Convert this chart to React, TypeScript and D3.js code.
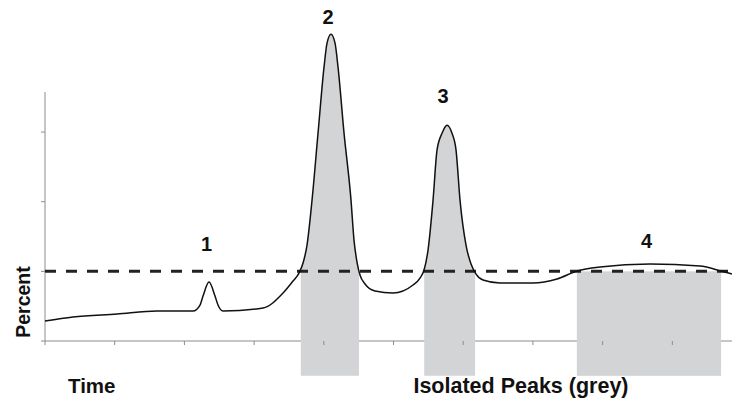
import React from "react";
import * as d3 from "d3";

const time = [0, 4.02, 10.33, 16.07, 21.23, 22.24, 22.67, 23.53, 24.39, 24.82, 25.54, 31.28, 34.15, 35.58, 36.44, 37.02, 37.59, 38.31, 39.17, 40.03, 40.46, 41.03, 41.61, 42.04, 42.9, 43.9, 44.33, 44.76, 45.19, 45.91, 47.35, 49.93, 52.8, 53.8, 54.38, 54.95, 55.67, 56.24, 56.96, 57.68, 58.39, 58.97, 59.54, 60.4, 61.12, 61.84, 62.84, 65.28, 70.01, 73.46, 76.33, 79.63, 86.8, 93.97, 96.99, 98.56];
const percent = [5.74, 6.89, 7.75, 8.61, 8.61, 10.33, 12.91, 16.93, 12.91, 10.33, 8.61, 9.47, 13.77, 17.22, 19.51, 22.38, 27.55, 40.46, 59.68, 78.62, 85.51, 88.09, 85.51, 78.62, 59.68, 40.46, 28.98, 22.67, 18.94, 16.36, 14.35, 13.77, 16.07, 18.08, 20.37, 26.11, 40.46, 54.81, 59.68, 61.98, 59.68, 54.81, 40.46, 27.55, 22.09, 19.22, 17.5, 16.64, 16.64, 17.79, 20.09, 21.23, 22.09, 21.52, 20.09, 19.22];

const threshold = 20;
const xTicks = [0, 10, 20, 30, 40, 50, 60, 70, 80, 90];
const yTicks = [0, 20, 40, 60];

const regionStart = [36.7, 54.4, 76.3];
const regionEnd = [45.05, 61.7, 97.0];
const regionToCurve = [true, true, false];
const regionBottom = -10;

const peakLabels = ["1", "2", "3", "4"];
const peakLabelX = [23.17, 40.6, 57.1, 86.3];
const peakLabelY = [25.8, 91.0, 68.3, 26.7];

const W = 732;
const H = 398;
const FONT = "'Liberation Sans', Arial, Helvetica, sans-serif";

export default function App() {
  const x = d3.scaleLinear().domain([0, 98.56]).range([45, 732]);
  const y = d3.scaleLinear().domain([0, 71.5]).range([341, 92]);
  const data = time.map((t, i) => ({ t, p: percent[i] }));

  const line = d3
    .line<{ t: number; p: number }>()
    .x((d) => x(d.t))
    .y((d) => y(d.p))
    .curve(d3.curveMonotoneX);

  const areaCurve = d3
    .area<{ t: number; p: number }>()
    .x((d) => x(d.t))
    .y0(y(regionBottom))
    .y1((d) => y(d.p))
    .curve(d3.curveMonotoneX);

  return (
    <svg
      width={W}
      height={H}
      style={{ position: "absolute", left: 0, top: 0, background: "#fff" }}
      fontFamily={FONT}
    >
      <defs>
        {regionStart.map((s, i) => (
          <clipPath id={`reg${i}`} key={i}>
            <rect x={x(s)} y={0} width={x(regionEnd[i]) - x(s)} height={H} />
          </clipPath>
        ))}
      </defs>
      <line x1={x(0)} x2={x(0)} y1={y(71.5)} y2={y(0)} stroke="#8c8c8c" strokeWidth={1} />
      <line x1={x(0)} x2={W} y1={y(0)} y2={y(0)} stroke="#8c8c8c" strokeWidth={1} />
      {regionStart.map((s, i) =>
        regionToCurve[i] ? (
          <path key={i} d={areaCurve(data) || ""} fill="#d3d4d6" clipPath={`url(#reg${i})`} />
        ) : (
          <rect
            key={i}
            x={x(s)}
            y={y(threshold)}
            width={x(regionEnd[i]) - x(s)}
            height={y(regionBottom) - y(threshold)}
            fill="#d3d4d6"
          />
        )
      )}
      {xTicks.map((t) => (
        <line key={`xt${t}`} x1={x(t)} x2={x(t)} y1={y(0)} y2={y(0) + 4} stroke="#8c8c8c" />
      ))}
      {yTicks.map((t) => (
        <line key={`yt${t}`} x1={x(0) - 4} x2={x(0)} y1={y(t)} y2={y(t)} stroke="#8c8c8c" />
      ))}
      <line
        x1={x(0)}
        x2={W}
        y1={y(threshold)}
        y2={y(threshold)}
        stroke="#222"
        strokeWidth={3}
        strokeDasharray="11 10"
      />
      <path d={line(data) || ""} fill="none" stroke="#111" strokeWidth={1.5} />
      {peakLabels.map((l, i) => (
        <text
          key={l}
          x={x(peakLabelX[i])}
          y={y(peakLabelY[i])}
          textAnchor="middle"
          fontSize={20}
          fontWeight="bold"
          fill="#111"
        >
          {l}
        </text>
      ))}
      <text
        transform={`translate(30,302) rotate(-90)`}
        textAnchor="middle"
        fontSize={19.5}
        fontWeight="bold"
        fill="#111"
      >
        Percent
      </text>
      <text x={68} y={393} fontSize={20.5} fontWeight="bold" fill="#111">
        Time
      </text>
      <text x={521} y={393} textAnchor="middle" fontSize={21.5} fontWeight="bold" fill="#111">
        Isolated Peaks (grey)
      </text>
    </svg>
  );
}
